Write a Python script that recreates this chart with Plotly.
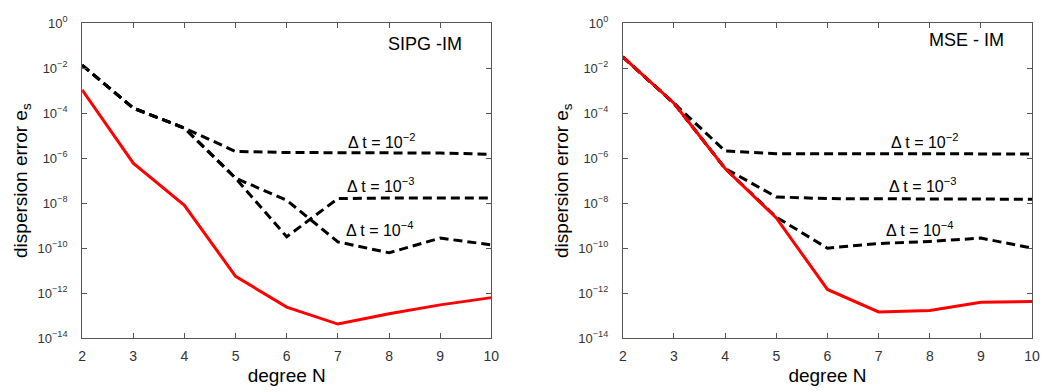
import plotly.graph_objects as go

# ---------------- data ----------------
degree_N = [2, 3, 4, 5, 6, 7, 8, 9, 10]

# left panel: SIPG - IM
sipg_space = [1.1e-3, 6e-7, 8e-9, 5.6e-12, 2.4e-13, 4.2e-14, 1.2e-13, 3e-13, 6.3e-13]
sipg_dt2 = [1.4e-2, 1.7e-4, 2.2e-5, 2.0e-6, 1.8e-6, 1.8e-6, 1.8e-6, 1.7e-6, 1.5e-6]
sipg_dt3 = [1.4e-2, 1.7e-4, 2.2e-5, 1.3e-7, 3.2e-10, 1.6e-8, 1.7e-8, 1.7e-8, 1.7e-8]
sipg_dt4 = [1.4e-2, 1.7e-4, 2.2e-5, 1.3e-7, 1.35e-8, 1.9e-10, 6.2e-11, 2.8e-10, 1.4e-10]

# right panel: MSE - IM
mse_space = [3.2e-2, 2.8e-4, 3.5e-7, 2.2e-9, 1.45e-12, 1.45e-13, 1.7e-13, 3.9e-13, 4.2e-13]
mse_dt2 = [3.2e-2, 2.8e-4, 2.1e-6, 1.6e-6, 1.6e-6, 1.6e-6, 1.6e-6, 1.6e-6, 1.55e-6]
mse_dt3 = [3.2e-2, 2.8e-4, 3.5e-7, 1.9e-8, 1.6e-8, 1.6e-8, 1.6e-8, 1.6e-8, 1.5e-8]
mse_dt4 = [3.2e-2, 2.8e-4, 3.5e-7, 2.4e-9, 1.0e-10, 1.6e-10, 2.0e-10, 2.8e-10, 1.0e-10]

y_tickvals = [1e0, 1e-2, 1e-4, 1e-6, 1e-8, 1e-10, 1e-12, 1e-14]
y_ticktext = ["10<sup>0</sup>", "10<sup>−2</sup>", "10<sup>−4</sup>", "10<sup>−6</sup>",
              "10<sup>−8</sup>", "10<sup>−10</sup>", "10<sup>−12</sup>", "10<sup>−14</sup>"]
dt_labels = ["Δ t = 10<sup>−2</sup>", "Δ t = 10<sup>−3</sup>", "Δ t = 10<sup>−4</sup>"]
panel_titles = ["SIPG -IM", "MSE - IM"]

# ---------------- figure ----------------
W, H = 1048, 392
fig = go.Figure()

FONT = "Liberation Sans, Arial, sans-serif"
dash_style = "9px,5px"

panels = [
    ("x", "y", sipg_space, [sipg_dt2, sipg_dt3, sipg_dt4]),
    ("x2", "y2", mse_space, [mse_dt2, mse_dt3, mse_dt4]),
]
for xa, ya, space, dts in panels:
    for d in dts:
        fig.add_trace(go.Scatter(x=degree_N, y=d, mode="lines", xaxis=xa, yaxis=ya,
                                 line=dict(color="black", width=3, dash=dash_style),
                                 showlegend=False, hoverinfo="skip"))
    fig.add_trace(go.Scatter(x=degree_N, y=space, mode="lines", xaxis=xa, yaxis=ya,
                             line=dict(color="#ff0000", width=3),
                             showlegend=False, hoverinfo="skip"))

def px_x(p):
    return p / W

def px_y(p):
    return 1 - p / H

xdom_left = [px_x(79), px_x(493)]
xdom_right = [px_x(626), px_x(1040)]
ydom = [px_y(344), px_y(15)]

axis_common = dict(showline=True, linecolor="#555555", linewidth=1, mirror="ticks",
                   ticks="inside", ticklen=5, tickcolor="#555555", showgrid=False,
                   zeroline=False, tickfont=dict(family=FONT, size=14, color="#333333"))

xaxis_common = dict(axis_common, range=[2, 10], tickvals=degree_N, ticklabelstandoff=5,
                    title=dict(text="degree N", font=dict(family=FONT, size=19, color="black"),
                               standoff=5))
yaxis_common = dict(axis_common, type="log", range=[-14, 0], tickvals=y_tickvals,
                    ticktext=y_ticktext, ticklabelstandoff=11,
                    tickfont=dict(family=FONT, size=13, color="#333333"),
                    title=dict(text="dispersion error e<sub>s</sub>",
                               font=dict(family=FONT, size=19, color="black"), standoff=4))

fig.update_layout(
    width=W, height=H,
    margin=dict(l=0, r=0, t=0, b=0),
    paper_bgcolor="white", plot_bgcolor="white",
    xaxis=dict(xaxis_common, domain=xdom_left, anchor="y"),
    yaxis=dict(yaxis_common, domain=ydom, anchor="x"),
    xaxis2=dict(xaxis_common, domain=xdom_right, anchor="y2"),
    yaxis2=dict(yaxis_common, domain=ydom, anchor="x2"),
)

# annotations (positions in data coordinates; log10 for y)
ann_pos = {
    "x": ([(7.87, -5.22), (7.85, -7.2), (7.82, -9.15)], (8.70, -0.94)),
    "x2": ([(7.90, -5.22), (7.86, -7.2), (7.81, -9.15)], (8.71, -0.72)),
}
for (xa, ya), title in zip([("x", "y"), ("x2", "y2")], panel_titles):
    dts_pos, title_pos = ann_pos[xa]
    for lbl, (ax_, ay_) in zip(dt_labels, dts_pos):
        fig.add_annotation(x=ax_, y=ay_, xref=xa, yref=ya, text=lbl, showarrow=False,
                           font=dict(family=FONT, size=16, color="black"))
    fig.add_annotation(x=title_pos[0], y=title_pos[1], xref=xa, yref=ya, text=title,
                       showarrow=False, font=dict(family=FONT, size=18, color="black"))

fig.write_html("out.html")
